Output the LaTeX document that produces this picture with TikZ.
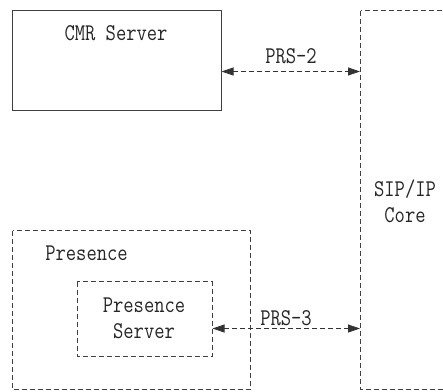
\documentclass[tikz,border=0pt]{standalone}
\usepackage{fontspec}
\usetikzlibrary{arrows.meta}
% narrow, tall monospaced lettering
\newcommand\tallt[1]{\scalebox{1}[1.2]{#1}}
\tikzset{
  solidbox/.style={draw=black!75, line width=0.8pt},
  dashbox/.style={draw=black!75, line width=0.8pt, dash pattern=on 5pt off 3pt},
  link/.style={draw=black!80, line width=0.8pt, dash pattern=on 5pt off 3pt,
    {Triangle[length=12pt,width=8pt]}-{Triangle[length=12pt,width=8pt]}},
  lbl/.style={font=\ttfamily\fontsize{20}{26}\selectfont, text=black!85, inner sep=0pt},
}
\begin{document}
\begin{tikzpicture}[x=1pt,y=-1pt]
\useasboundingbox (0,0) rectangle (443,391);
\clip (0,0) rectangle (443,391);
% boxes
\draw[solidbox] (12.5,10.5) rectangle (221,110.5);
\node[lbl, anchor=base] (cmr) at (116,40) {\tallt{CMR Server}};
\draw[dashbox] (360.5,10.5) rectangle (470,389.5);
\node[lbl, align=center] (core) at (405,201) {\tallt{SIP/IP}\\\tallt{Core}};
\draw[dashbox] (12.5,230.5) rectangle (250,389.5);
\node[lbl, anchor=base] (pres) at (86.5,260) {\tallt{Presence}};
\draw[dashbox] (77,281.5) rectangle (212,356);
\node[lbl, align=center] (pserv) at (144,318) {\tallt{Presence}\\\tallt{Server}};
% interfaces
\coordinate (cmrR) at (221.5,71.5);
\coordinate (coreA) at (360,71.5);
\coordinate (psR) at (212.5,328.5);
\coordinate (coreB) at (360,328.5);
\draw[link] (cmrR) -- (coreA);
\draw[link] (psR) -- (coreB);
\node[lbl, anchor=base] (prs2) at (291,63) {\tallt{PRS-2}};
\node[lbl, anchor=base] (prs3) at (286,325) {\tallt{PRS-3}};
\end{tikzpicture}
\end{document}
